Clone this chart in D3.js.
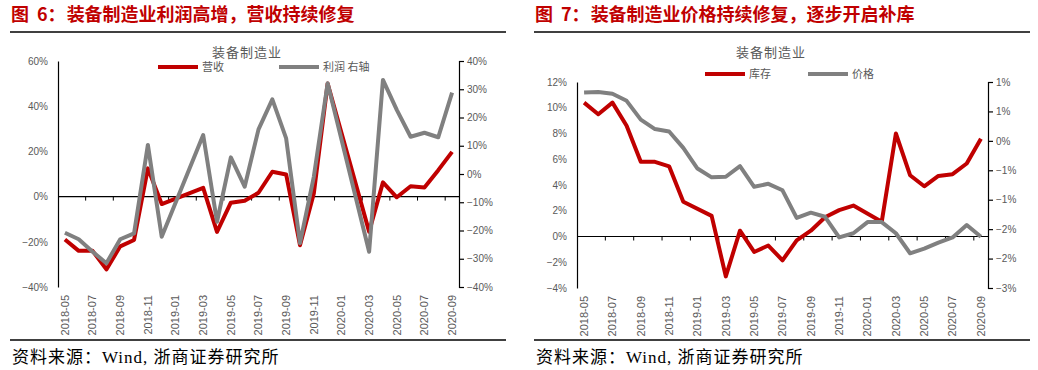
<!DOCTYPE html>
<html>
<head>
<meta charset="utf-8">
<script src="https://cdn.jsdelivr.net/npm/d3@7"></script>
<style>
  body { margin: 0; background: #fff; }
  svg { display: block; }
</style>
</head>
<body>
<svg id="chart" width="1038" height="370"></svg>
<script>
// categories (monthly)
var months = ["2018-05","2018-06","2018-07","2018-08","2018-09","2018-10","2018-11","2018-12",
  "2019-01","2019-02","2019-03","2019-04","2019-05","2019-06","2019-07","2019-08","2019-09",
  "2019-10","2019-11","2019-12","2020-01","2020-02","2020-03","2020-04","2020-05","2020-06",
  "2020-07","2020-08","2020-09"];

// fig 6: 营收 (left axis), 利润 (right axis) - Jan/Feb not published
var revenue = [-19, -24, -24, -32.2, -22, -19.2, 12.5, -3.3, null, null, 3.9, -15.6, -2.7, -1.8,
  1.7, 11, 9.8, -21.5, 1.4, 50, null, null, -15.5, 6.3, -0.3, 4.6, 4, 11.7, 19.8];
var profit = [-20.8, -23.1, -27.5, -31.6, -23.1, -21, 10.3, -22.2, null, null, 13.8, -16.9, 5.9, -4.5,
  15.8, 26.4, 12.6, -24.5, -1, 32.1, null, null, -27.5, 33.3, 22.7, 13.2, 14.6, 13, 28.8];

// fig 7: 库存 (left axis), 价格 (right axis)
var inventory = [10.4, 9.5, 10.4, 8.6, 5.8, 5.8, 5.45, 2.7, null, 1.6, -3.1, 0.45, -1.2, -0.7,
  -1.85, -0.3, 0.45, 1.5, 2.05, 2.4, null, 1.14, 8.0, 4.76, 3.9, 4.7, 4.84, 5.67, 7.6];
var price = [0.82, 0.83, 0.80, 0.68, 0.36, 0.20, 0.16, -0.12, -0.47, -0.62, -0.61, -0.43, -0.78, -0.73,
  -0.84, -1.31, -1.22, -1.29, -1.64, -1.57, -1.38, -1.38, -1.57, -1.91, -1.83, -1.73, -1.64, -1.43, -1.63];

// tick values
var fig6LeftTicks = [-40, -20, 0, 20, 40, 60];
var fig6RightTicks = [-40, -30, -20, -10, 0, 10, 20, 30, 40];
var fig7LeftTicks = [-4, -2, 0, 2, 4, 6, 8, 10, 12];
var fig7RightTicks = [-2.5, -2, -1.5, -1, -0.5, 0, 0.5, 1];

var RED = "#c00000", GREY = "#808080", LABEL = "#595959";
var svg = d3.select("#chart");

// excel style "0%" rounding (away from zero)
function pct(v) {
  var r = Math.round(Math.abs(v)) * (v < 0 ? -1 : 1);
  return (r < 0 ? "\u2212" + (-r) : r) + "%";
}

function drawPanel(opt) {
  var g = svg.append("g");

  // header / footer
  var t = g.append("text")
    .attr("x", opt.x0 + 1).attr("y", 21)
    .attr("fill", RED)
    .style("font", "bold 18px 'Noto Sans CJK SC', sans-serif");
  t.append("tspan").text(opt.figNo[0]);
  t.append("tspan").attr("dx", 8).text(opt.figNo[1]);
  t.append("tspan").attr("dx", 1).text(opt.title);
  g.append("line").attr("x1", opt.x0).attr("x2", opt.x1).attr("y1", 32).attr("y2", 32)
    .attr("stroke", "#000").attr("stroke-width", 1.3);
  g.append("line").attr("x1", opt.x0).attr("x2", opt.x1).attr("y1", 340).attr("y2", 340)
    .attr("stroke", "#000").attr("stroke-width", 1.3);
  g.append("text")
    .attr("x", opt.x0 + 2).attr("y", 363)
    .attr("fill", "#000")
    .style("font", "17px 'Liberation Serif', 'Noto Sans CJK SC', serif")
    .style("letter-spacing", "1px")
    .text("资料来源：Wind, 浙商证券研究所");

  // chart title
  g.append("text")
    .attr("x", opt.subX).attr("y", 56.5)
    .attr("text-anchor", "middle")
    .attr("fill", LABEL)
    .style("font", "13px 'Noto Sans CJK SC', sans-serif")
    .style("letter-spacing", "1px")
    .text("装备制造业");

  var x = d3.scalePoint().domain(months).range([opt.left, opt.right]).padding(0.5);
  var step = x.step();
  var yL = d3.scaleLinear().domain(opt.yLDomain).range([opt.bottom, opt.top]);
  var yR = d3.scaleLinear().domain(opt.yRDomain).range([opt.bottom, opt.top]);

  // left axis
  var axL = g.append("g")
    .attr("transform", "translate(" + opt.left + ",0)")
    .call(d3.axisLeft(yL).tickValues(opt.yLTicks).tickSize(0).tickPadding(10).tickFormat(pct));
  // right axis
  var axR = g.append("g")
    .attr("transform", "translate(" + opt.right + ",0)")
    .call(d3.axisRight(yR).tickValues(opt.yRTicks).tickSize(5).tickSizeOuter(5).tickPadding(3).tickFormat(pct));
  [axL, axR].forEach(function(a) {
    a.selectAll("path, line").attr("stroke", "#000").attr("stroke-width", 1.2);
    a.selectAll("text").attr("fill", LABEL)
      .style("font-size", "10px").style("font-family", "'Liberation Sans', Arial, sans-serif");
  });

  // zero line with category ticks
  var y0 = yL(0);
  g.append("line").attr("x1", opt.left).attr("x2", opt.right).attr("y1", y0).attr("y2", y0)
    .attr("stroke", "#000").attr("stroke-width", 1.2);
  g.selectAll(".ctick")
    .data(months.filter(function(d, i) { return i % 2 === 1 && i < months.length - 1; }))
    .enter().append("line")
      .attr("x1", function(d) { return x(d) + step / 2; })
      .attr("x2", function(d) { return x(d) + step / 2; })
      .attr("y1", y0).attr("y2", y0 + 4)
      .attr("stroke", "#000").attr("stroke-width", 1);

  // x labels (every other month)
  g.selectAll(".xlab")
    .data(months.filter(function(d, i) { return i % 2 === 0; }))
    .enter().append("text")
      .attr("transform", function(d) { return "translate(" + x(d) + "," + (opt.bottom + 8) + ") rotate(-90)"; })
      .attr("text-anchor", "end")
      .attr("dy", "0.35em")
      .attr("fill", LABEL)
      .style("font", "11px 'Liberation Sans', Arial, sans-serif")
      .text(function(d) { return d; });

  // series lines (skip unpublished months)
  function drawLine(vals, yScale, color) {
    var pts = months.map(function(m, i) { return [m, vals[i]]; })
      .filter(function(p) { return p[1] !== null; });
    g.append("path")
      .datum(pts)
      .attr("fill", "none")
      .attr("stroke", color)
      .attr("stroke-width", 4)
      .attr("stroke-linejoin", "round")
      .attr("d", d3.line()
        .x(function(p) { return x(p[0]); })
        .y(function(p) { return yScale(p[1]); }));
  }
  drawLine(opt.leftSeries, yL, RED);
  drawLine(opt.rightSeries, yR, GREY);

  // legend
  var leg = [[opt.legX[0], RED, opt.names[0]], [opt.legX[1], GREY, opt.names[1]]];
  leg.forEach(function(l) {
    g.append("line").attr("x1", l[0]).attr("x2", l[0] + 40).attr("y1", opt.legY).attr("y2", opt.legY)
      .attr("stroke", l[1]).attr("stroke-width", 4);
    g.append("text").attr("x", l[0] + 44).attr("y", opt.legY + 4)
      .attr("fill", LABEL)
      .style("font", "11px 'Noto Sans CJK SC', sans-serif")
      .text(l[2]);
  });
}

drawPanel({
  figNo: ["图", "6："], title: "装备制造业利润高增，营收持续修复",
  x0: 10, x1: 506, subX: 247,
  left: 58, right: 459, top: 61, bottom: 287,
  yLDomain: [-40, 60], yRDomain: [-40, 40],
  yLTicks: fig6LeftTicks, yRTicks: fig6RightTicks,
  leftSeries: revenue, rightSeries: profit,
  names: ["营收", "利润 右轴"], legX: [158, 279], legY: 67
});

drawPanel({
  figNo: ["图", "7："], title: "装备制造业价格持续修复，逐步开启补库",
  x0: 534, x1: 1030, subX: 771,
  left: 577, right: 988, top: 82, bottom: 288,
  yLDomain: [-4, 12], yRDomain: [-2.5, 1],
  yLTicks: fig7LeftTicks, yRTicks: fig7RightTicks,
  leftSeries: inventory, rightSeries: price,
  names: ["库存", "价格"], legX: [705, 808], legY: 74
});
</script>
</body>
</html>
